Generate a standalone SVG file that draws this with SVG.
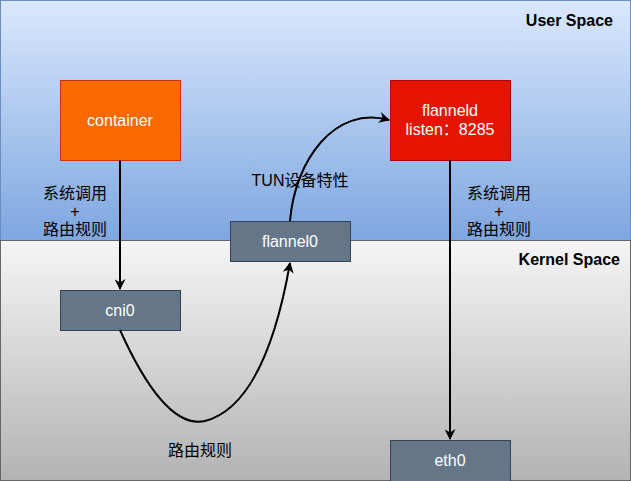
<svg xmlns="http://www.w3.org/2000/svg" width="631" height="481" viewBox="0 0 631 481">
<defs>
<linearGradient id="gUser" x1="0" y1="0" x2="0" y2="1"><stop offset="0" stop-color="#dae8fc"/><stop offset="1" stop-color="#7ea6e0"/></linearGradient>
<linearGradient id="gKernel" x1="0" y1="0" x2="0" y2="1"><stop offset="0" stop-color="#f5f5f5"/><stop offset="1" stop-color="#b3b3b3"/></linearGradient>
<marker id="arr" viewBox="0 0 10 10" refX="9" refY="5" markerWidth="11" markerHeight="11" markerUnits="userSpaceOnUse" orient="auto"><path d="M0,0 L10,5 L0,10 L3,5 z" fill="#000"/></marker>
</defs>
<style>
.lbl{font-family:"Liberation Sans","Noto Sans CJK SC",sans-serif;font-size:16px;fill:#000;text-anchor:middle}
.ntxt{font-family:"Liberation Sans","Noto Sans CJK SC",sans-serif;font-size:16px;fill:#fff;text-anchor:middle}
.zone{font-family:"Liberation Sans",sans-serif;font-size:16px;font-weight:bold;fill:#000;text-anchor:end}
.edge{fill:none;stroke:#000;stroke-width:2;marker-end:url(#arr)}
.gray{fill:#647687;stroke:#314354}
</style>
<g id="userSpace"><rect x="0.5" y="0.5" width="630" height="240" fill="url(#gUser)" stroke="#6c8ebf"/><text class="zone" x="613" y="26">User Space</text></g>
<g id="kernelSpace"><rect x="0.5" y="240.5" width="630" height="240" fill="url(#gKernel)" stroke="#666666"/><text class="zone" x="620" y="265">Kernel Space</text></g>
<g id="container"><rect x="60.5" y="80.5" width="120" height="80" fill="#fa6800" stroke="#C73500"/><text class="ntxt" x="120" y="126">container</text></g>
<g id="flanneld"><rect x="390.5" y="80.5" width="120" height="80" fill="#e51400" stroke="#B20000"/><text class="ntxt" x="450" y="116">flanneld</text><text class="ntxt" x="450" y="135">listen：8285</text></g>
<g id="flannel0"><rect x="230.5" y="221.5" width="120" height="40" class="gray"/><text class="ntxt" x="290" y="247">flannel0</text></g>
<g id="cni0"><rect x="60.5" y="290.5" width="120" height="40" class="gray"/><text class="ntxt" x="120" y="316">cni0</text></g>
<g id="eth0"><rect x="390.5" y="440.5" width="120" height="44" class="gray"/><text class="ntxt" x="450" y="466">eth0</text></g>
<g id="connectors">
<path class="edge" d="M120,160 L120,289"/>
<path class="edge" d="M450,160 L450,439"/>
<path class="edge" d="M120,330 Q165,430 205,421 Q265,405 290,263"/>
<path class="edge" d="M290,221 C295,160 335,105 389,120"/>
</g>
<g id="labels">
<text class="lbl" x="75" y="199">系统调用</text><text class="lbl" x="75" y="217">+</text><text class="lbl" x="75" y="235">路由规则</text>
<text class="lbl" x="499" y="199">系统调用</text><text class="lbl" x="499" y="217">+</text><text class="lbl" x="499" y="235">路由规则</text>
<text class="lbl" x="300" y="186">TUN设备特性</text>
<text class="lbl" x="200" y="456">路由规则</text>
</g>
</svg>
